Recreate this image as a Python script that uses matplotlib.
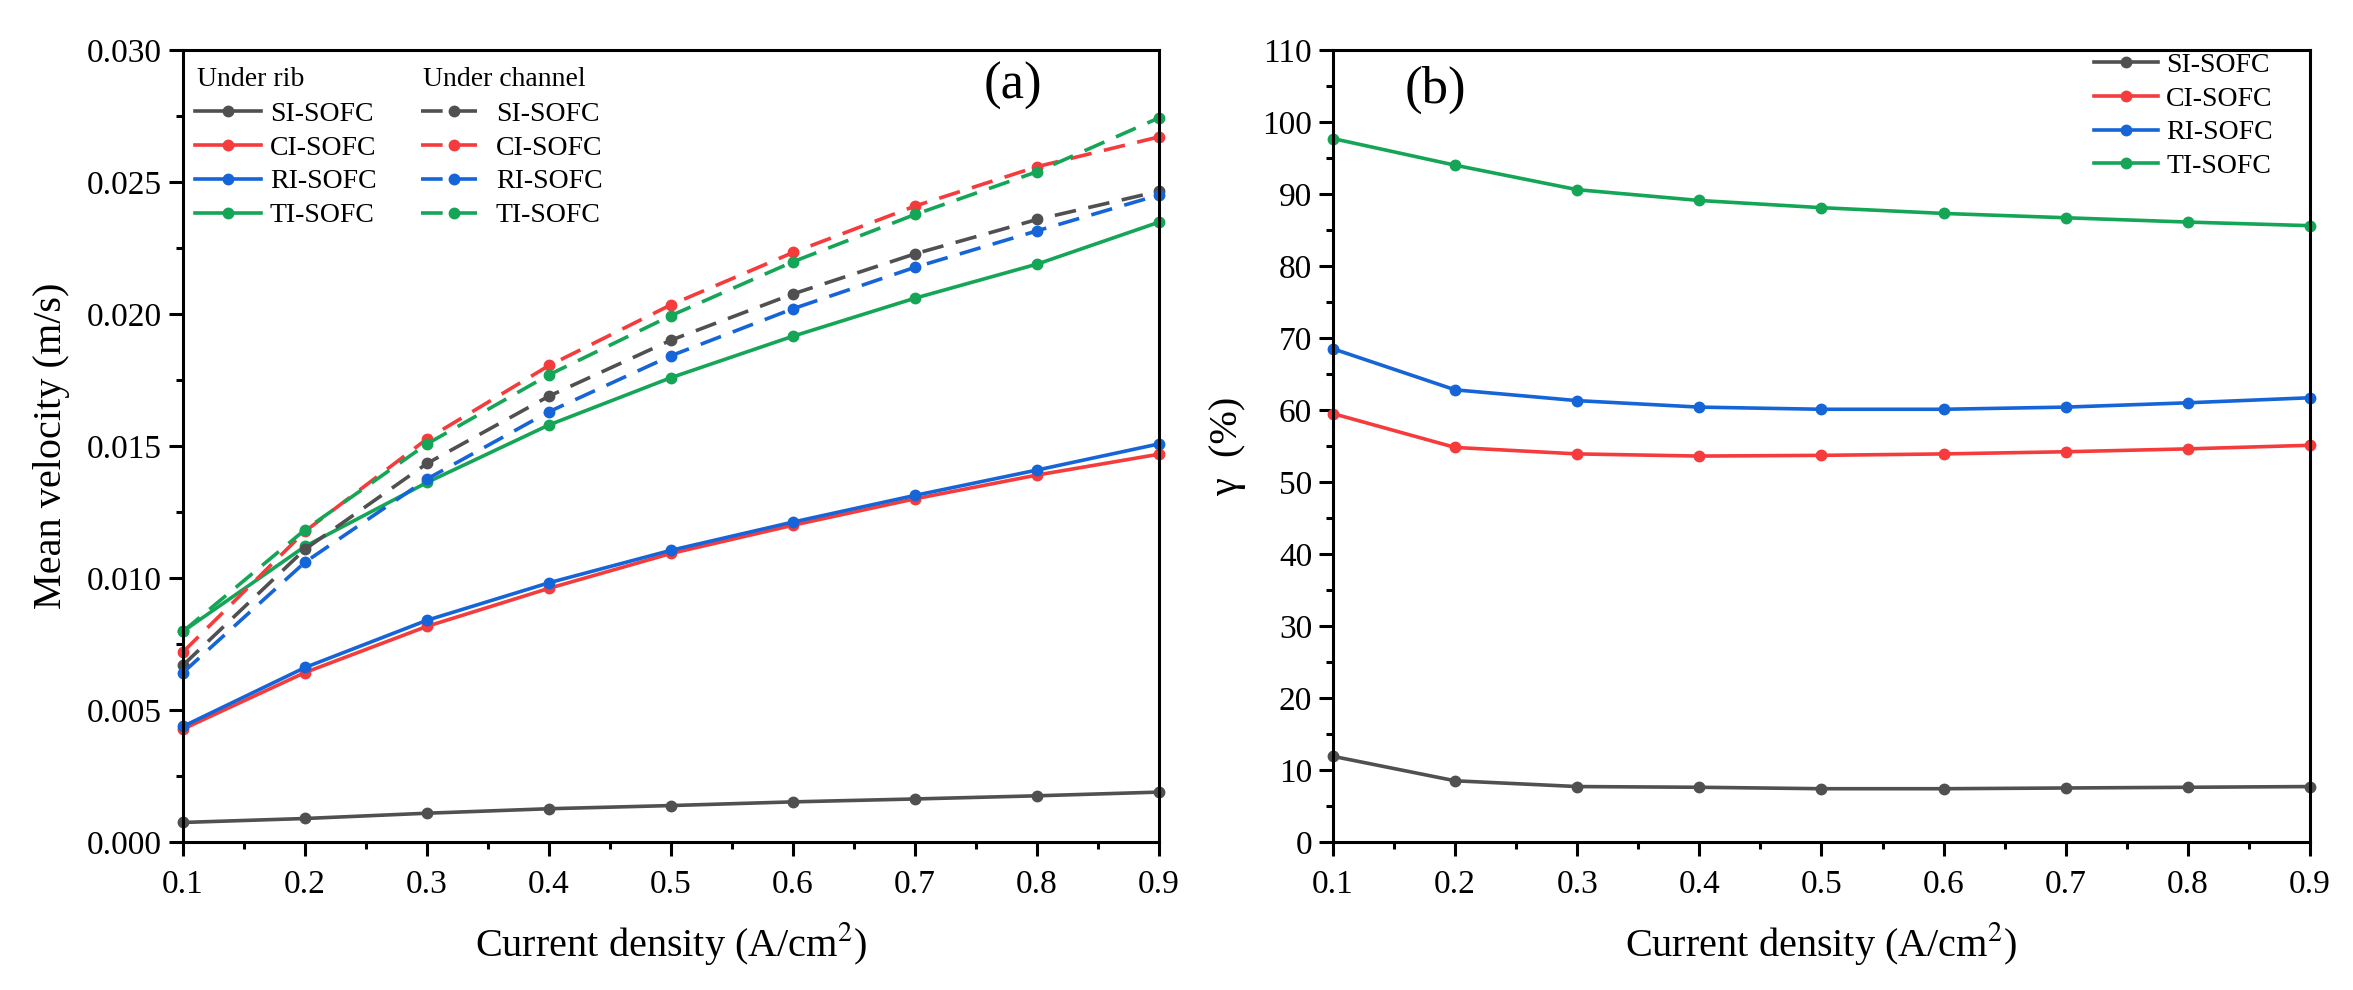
import matplotlib
matplotlib.use("Agg")
import matplotlib.pyplot as plt
from matplotlib.ticker import MultipleLocator, FormatStrFormatter

plt.rcParams['font.family'] = ['Liberation Serif', 'DejaVu Serif']
plt.rcParams['mathtext.fontset'] = 'stix'

# current density (A/cm2)
current = [0.1, 0.2, 0.3, 0.4, 0.5, 0.6, 0.7, 0.8, 0.9]
cells = ['SI-SOFC', 'CI-SOFC', 'RI-SOFC', 'TI-SOFC']
colors = ['#505050', '#f53b3b', '#1565d8', '#14a556']

# (a) mean velocity under rib (m/s)
rib_si = [0.00074, 0.00089, 0.00109, 0.00126, 0.00138, 0.00152, 0.00163, 0.00175, 0.00189]
rib_ci = [0.00428, 0.00642, 0.00817, 0.00961, 0.01093, 0.01200, 0.01300, 0.01390, 0.01469]
rib_ri = [0.00438, 0.00661, 0.00840, 0.00982, 0.01105, 0.01212, 0.01313, 0.01409, 0.01508]
rib_ti = [0.00798, 0.01120, 0.01362, 0.01580, 0.01759, 0.01916, 0.02060, 0.02189, 0.02348]

# (a) mean velocity under channel (m/s)
ch_si = [0.00670, 0.01109, 0.01434, 0.01689, 0.01901, 0.02076, 0.02228, 0.02358, 0.02465]
ch_ci = [0.00720, 0.01177, 0.01527, 0.01805, 0.02035, 0.02233, 0.02409, 0.02558, 0.02671]
ch_ri = [0.00642, 0.01060, 0.01375, 0.01630, 0.01842, 0.02020, 0.02177, 0.02315, 0.02451]
ch_ti = [0.00798, 0.01183, 0.01508, 0.01770, 0.01994, 0.02198, 0.02377, 0.02539, 0.02743]

# (b) gamma (%)
gam_si = [11.9, 8.5, 7.7, 7.6, 7.4, 7.4, 7.5, 7.6, 7.7]
gam_ci = [59.5, 54.8, 53.9, 53.6, 53.7, 53.9, 54.2, 54.6, 55.1]
gam_ri = [68.5, 62.8, 61.3, 60.4, 60.1, 60.1, 60.4, 61.0, 61.7]
gam_ti = [97.7, 94.0, 90.6, 89.1, 88.1, 87.3, 86.7, 86.1, 85.6]

rib = [rib_si, rib_ci, rib_ri, rib_ti]
channel = [ch_si, ch_ci, ch_ri, ch_ti]
gamma = [gam_si, gam_ci, gam_ri, gam_ti]

fig = plt.figure(figsize=(23.53, 9.9), dpi=100)
ax1 = fig.add_axes([0.0778, 0.1495, 0.4148, 0.800])
ax2 = fig.add_axes([0.5665, 0.1495, 0.4152, 0.800])

lw = 2.6
ms = 7.5

def style_axis(ax):
    for s in ax.spines.values():
        s.set_linewidth(2.2)
    ax.tick_params(which='major', direction='out', length=10, width=2.2, labelsize=24, pad=5)
    ax.tick_params(which='minor', direction='out', length=5, width=2.2)
    ax.tick_params(axis='x', pad=10)
    ax.set_xlim(0.1, 0.9)
    ax.xaxis.set_major_locator(MultipleLocator(0.1))
    ax.xaxis.set_minor_locator(MultipleLocator(0.05))
    ax.xaxis.set_major_formatter(FormatStrFormatter('%.1f'))
    ax.set_xlabel('Current density (A/cm$^2$)', fontsize=29, labelpad=14)

# (a) mean velocity
h_rib, h_ch = [], []
for name, c, y in zip(cells, colors, rib):
    l, = ax1.plot(current, y, '-', color=c, lw=lw, marker='o', ms=ms, mec=c, mfc=c, label=name, clip_on=False)
    h_rib.append(l)
for name, c, y in zip(cells, colors, channel):
    l, = ax1.plot(current, y, '--', color=c, lw=lw, marker='o', ms=ms, mec=c, mfc=c, label=name,
                  dashes=(6, 3.5), clip_on=False)
    h_ch.append(l)

style_axis(ax1)
ax1.set_ylim(0, 0.030)
ax1.yaxis.set_major_locator(MultipleLocator(0.005))
ax1.yaxis.set_minor_locator(MultipleLocator(0.0025))
ax1.yaxis.set_major_formatter(FormatStrFormatter('%.3f'))
ax1.set_ylabel('Mean velocity (m/s)', fontsize=29, labelpad=12)

ax1.text(0.014, 0.963, 'Under rib', transform=ax1.transAxes, fontsize=20, va='center', ha='left')
ax1.text(0.246, 0.963, 'Under channel', transform=ax1.transAxes, fontsize=20, va='center', ha='left')
ax1.legend(h_rib + h_ch, cells + cells, ncol=2, loc='upper left', bbox_to_anchor=(0.012, 0.935),
           frameon=False, fontsize=20, borderpad=0, borderaxespad=0, handlelength=2.4,
           handletextpad=0.3, labelspacing=0.3, columnspacing=1.6)
ax1.text(0.85, 0.955, '(a)', transform=ax1.transAxes, fontsize=38, ha='center', va='center')

# (b) gamma
for name, c, y in zip(cells, colors, gamma):
    ax2.plot(current, y, '-', color=c, lw=lw, marker='o', ms=ms, mec=c, mfc=c, label=name, clip_on=False)

style_axis(ax2)
ax2.set_ylim(0, 110)
ax2.yaxis.set_major_locator(MultipleLocator(10))
ax2.yaxis.set_minor_locator(MultipleLocator(5))
ax2.set_ylabel('γ  (%)', fontsize=29, labelpad=12)
ax2.legend(loc='upper left', bbox_to_anchor=(0.779, 0.997), frameon=False, fontsize=20,
           borderpad=0, borderaxespad=0, handlelength=2.3, handletextpad=0.3, labelspacing=0.3)
ax2.text(0.105, 0.95, '(b)', transform=ax2.transAxes, fontsize=38, ha='center', va='center')

fig.savefig('out.png', dpi=100)
